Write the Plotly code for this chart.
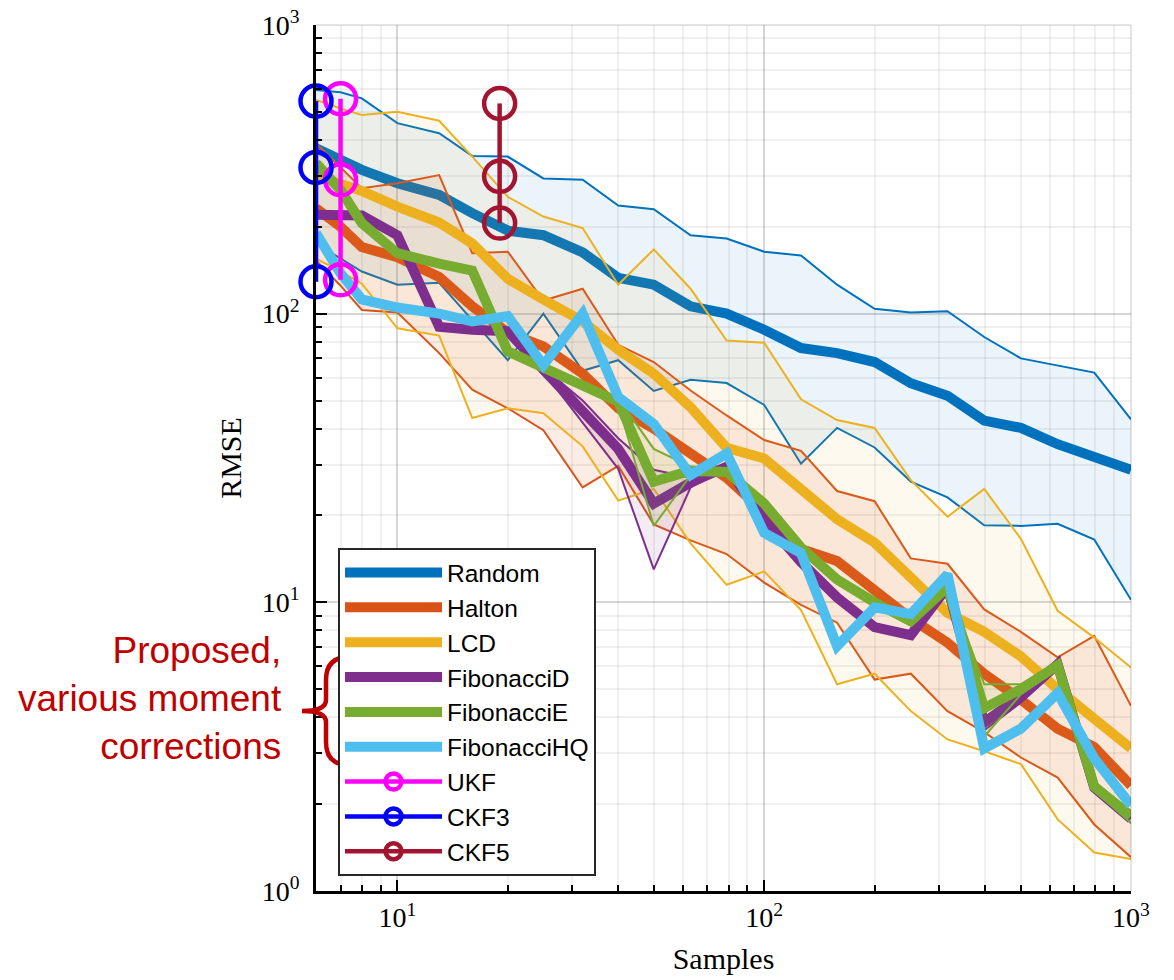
import plotly.graph_objects as go

# ---------------- data ----------------
samples = [6, 7, 8, 10, 13, 16, 20, 25, 32, 40, 50, 63, 79, 100, 126, 158, 200, 251, 316, 398, 501, 631, 794, 1000]

random_mean = [374, 341, 315, 283, 258, 223, 194, 187, 163, 133, 126, 106, 100, 88, 76, 73, 68, 57.4, 52, 42.6, 40.2, 35.3, 32, 28.8]
random_hi = [596, 585, 557, 457, 422, 352, 350, 294, 291, 237, 230, 187, 182, 164, 159, 126, 104, 101, 102, 83, 70, 66, 62.5, 43]
random_lo = [175, 155, 140, 126, 128, 95, 69, 100, 63.4, 69, 54, 59, 57.5, 48.3, 30.2, 40.2, 34.4, 26.2, 23.1, 18.5, 18.4, 18.7, 16.5, 10.2]

halton_mean = [232, 200, 170, 157, 134, 106, 86, 77, 62, 47, 40, 33, 27, 20.5, 15.3, 13.9, 11.1, 8.8, 7.25, 5.65, 4.6, 3.65, 3.15, 2.32]
halton_hi = [389, 320, 272, 283, 302, 162, 164, 111, 122, 78, 68, 54.2, 44.4, 36.5, 33.5, 24.3, 22.4, 14.2, 13.6, 9.45, 7.9, 6.45, 7.65, 4.38]
halton_lo = [153, 125, 103, 101, 73, 54.5, 47, 39.5, 25, 29.7, 18.6, 16.4, 14.7, 11.7, 9.8, 8.5, 5.4, 5.66, 4.2, 3.55, 2.9, 2.47, 1.7, 1.31]

lcd_mean = [300, 280, 266, 235, 207, 175, 132, 112, 94, 75, 62, 47.4, 34.3, 31.5, 24.5, 19.4, 16.1, 12.2, 9.2, 7.9, 6.5, 5.0, 4.0, 3.12]
lcd_hi = [550, 514, 488, 501, 466, 350, 254, 217, 198, 126, 167, 122, 80.7, 79.3, 50.5, 42.8, 40.2, 26.5, 19.8, 24.7, 16.6, 9.35, 7.55, 5.95]
lcd_lo = [155, 140, 127, 89, 84, 43.5, 47, 45.2, 34.7, 22.5, 24.7, 16, 11.5, 12.8, 9.4, 5.2, 5.66, 4.2, 3.35, 3.05, 2.75, 1.77, 1.36, 1.29]

fibd_mean = [220, 220, 219, 187, 90, 88, 87, 64, 46.5, 34, 22, 26, 29.5, 19.3, 13.8, 10.4, 8.2, 7.7, 11.3, 3.83, 4.7, 6.1, 2.28, 1.78]
fibd_hi = [222, 222, 221, 190, 92, 90, 88, 65, 50, 37, 28.8, 27, 30, 19.8, 14.2, 10.6, 8.4, 7.9, 11.6, 4.0, 4.9, 6.3, 2.35, 1.85]
fibd_lo = [218, 218, 217, 184, 88, 86, 85, 63, 42, 29, 13, 25, 29, 19.0, 13.5, 10.2, 8.0, 7.5, 11.0, 3.6, 4.5, 5.9, 2.2, 1.72]

fibe_mean = [332, 268, 206, 162, 149, 141, 74, 65.4, 55.9, 49.5, 26.2, 28.6, 28.3, 22, 15.5, 12, 10, 8.6, 11.3, 4.3, 5.0, 6.05, 2.3, 1.82]
fibe_hi = [335, 270, 208, 164, 151, 143, 75, 66, 57, 51, 34, 29.5, 29, 22.5, 15.9, 12.3, 10.2, 8.8, 11.6, 5.2, 5.2, 6.2, 2.4, 1.88]
fibe_lo = [329, 266, 204, 160, 147, 139, 73, 64.8, 55, 48.5, 18.4, 27.5, 27.6, 21.5, 15.2, 11.7, 9.7, 8.3, 11.0, 3.43, 4.8, 5.9, 2.22, 1.72]

fibhq_mean = [190, 138, 112, 105, 100, 94, 98, 66.3, 100, 51.5, 41.5, 27.6, 32.8, 17.4, 14.8, 7.05, 9.6, 9.1, 12.5, 3.12, 3.65, 4.85, 2.88, 1.98]

ukf_x = [7, 7, 7]
ukf_y = [555, 291, 131]
ckf3_x = [6, 6, 6]
ckf3_y = [545, 321, 129]
ckf5_x = [19, 19, 19]
ckf5_y = [535, 299, 206]

names = ["Random", "Halton", "LCD", "FibonacciD", "FibonacciE", "FibonacciHQ"]
colors = ["#0072BD", "#D95319", "#EDB120", "#7E2F8E", "#77AC30", "#4DBEEE"]
fill_alpha = [0.08, 0.11, 0.08, 0.09, 0.09, 0.0]
means = [random_mean, halton_mean, lcd_mean, fibd_mean, fibe_mean, fibhq_mean]
highs = [random_hi, halton_hi, lcd_hi, fibd_hi, fibe_hi, None]
lows = [random_lo, halton_lo, lcd_lo, fibd_lo, fibe_lo, None]

ytick_vals = [1, 10, 100, 1000]
ytick_text = ["10<sup>0</sup>", "10<sup>1</sup>", "10<sup>2</sup>", "10<sup>3</sup>"]
xtick_vals = [10, 100, 1000]
xtick_text = ["10<sup>1</sup>", "10<sup>2</sup>", "10<sup>3</sup>"]
minor_x = [6, 7, 8, 9, 20, 30, 40, 50, 60, 70, 80, 90, 200, 300, 400, 500, 600, 700, 800, 900]
minor_y = [2, 3, 4, 5, 6, 7, 8, 9, 20, 30, 40, 50, 60, 70, 80, 90, 200, 300, 400, 500, 600, 700, 800, 900]

# ---------------- figure ----------------
W, H = 1174, 980
L, R, T, B = 316, 43, 25, 89
PW, PH = W - L - R, H - T - B


def hex_rgba(h, a):
    h = h.lstrip("#")
    r, g, b = int(h[0:2], 16), int(h[2:4], 16), int(h[4:6], 16)
    return f"rgba({r},{g},{b},{a})"


fig = go.Figure()

for name, col, a, m, hi, lo in zip(names, colors, fill_alpha, means, highs, lows):
    if hi is not None:
        fig.add_trace(go.Scatter(x=samples, y=hi, mode="lines", line=dict(color=col, width=2),
                                 showlegend=False, hoverinfo="skip"))
        fig.add_trace(go.Scatter(x=samples, y=lo, mode="lines", line=dict(color=col, width=2),
                                 fill="tonexty", fillcolor=hex_rgba(col, a),
                                 showlegend=False, hoverinfo="skip"))
    fig.add_trace(go.Scatter(x=samples, y=m, mode="lines", name=name,
                             line=dict(color=col, width=10)))

for name, col, xs, ys in [("UKF", "#FF00FF", ukf_x, ukf_y),
                          ("CKF3", "#0000FF", ckf3_x, ckf3_y),
                          ("CKF5", "#A2142F", ckf5_x, ckf5_y)]:
    fig.add_trace(go.Scatter(x=xs, y=ys, mode="lines+markers", name=name,
                             line=dict(color=col, width=4.5),
                             marker=dict(symbol="circle-open", size=31, color=col,
                                         line=dict(width=4.5, color=col)),
                             cliponaxis=False))


def px2paper(px, py):
    return (px - L) / PW, 1 - (py - T) / PH


# curly brace next to the proposed methods in the legend
pts = [(349, 657), (326, 657), (326, 680), (326, 700), (326, 711), (302, 711), (326, 711),
       (326, 722), (326, 742), (326, 765), (349, 765)]
pp = [px2paper(*p) for p in pts]
fmt = lambda p: f"{p[0]:.5f},{p[1]:.5f}"
path = (f"M {fmt(pp[0])} Q {fmt(pp[1])} {fmt(pp[2])} L {fmt(pp[3])} "
        f"Q {fmt(pp[4])} {fmt(pp[5])} Q {fmt(pp[6])} {fmt(pp[7])} L {fmt(pp[8])} "
        f"Q {fmt(pp[9])} {fmt(pp[10])}")

shapes = [
    dict(type="path", path=path, xref="paper", yref="paper",
         line=dict(color="#C00000", width=4.5), layer="above"),
    dict(type="line", xref="paper", yref="paper", x0=0, x1=1, y0=1, y1=1,
         line=dict(color="rgba(0,0,0,0.15)", width=1.5)),
    dict(type="line", xref="paper", yref="paper", x0=1, x1=1, y0=0, y1=1,
         line=dict(color="rgba(0,0,0,0.15)", width=1.5)),
]

ax_common = dict(
    type="log", showline=True, linecolor="black", linewidth=2.5,
    ticks="inside", ticklen=11, tickwidth=2, tickcolor="black",
    showgrid=True, gridcolor="rgba(0,0,0,0.16)", gridwidth=1.5,
    zeroline=False, tickmode="array", automargin=False,
    tickfont=dict(family="Liberation Serif", size=28, color="black"),
    mirror=False,
)

fig.update_layout(
    width=W, height=H,
    margin=dict(l=L, r=R, t=T, b=B, pad=0, autoexpand=False),
    paper_bgcolor="white", plot_bgcolor="white",
    showlegend=True,
    legend=dict(x=0.027, y=0.396, xanchor="left", yanchor="top", traceorder="normal",
                bgcolor="white", bordercolor="#262626", borderwidth=2,
                font=dict(family="Liberation Sans", size=24.5, color="black"),
                itemwidth=97, tracegroupgap=0),
    xaxis=dict(ax_common, range=[0.77815, 3], tickvals=xtick_vals, ticktext=xtick_text,
               minor=dict(tickmode="array", tickvals=minor_x, ticks="inside", ticklen=6,
                          tickwidth=1.5, tickcolor="black", showgrid=True,
                          gridcolor="rgba(0,0,0,0.06)", gridwidth=1.5),
               title=dict(text="Samples", standoff=16,
                          font=dict(family="Liberation Serif", size=30, color="black"))),
    yaxis=dict(ax_common, range=[0, 3], tickvals=ytick_vals, ticktext=ytick_text,
               ticklabelstandoff=8,
               minor=dict(tickmode="array", tickvals=minor_y, ticks="inside", ticklen=6,
                          tickwidth=1.5, tickcolor="black", showgrid=True,
                          gridcolor="rgba(0,0,0,0.06)", gridwidth=1.5),
               title=dict(text="RMSE", standoff=12,
                          font=dict(family="Liberation Serif", size=30, color="black"))),
    shapes=shapes,
    annotations=[dict(text="Proposed,<br>various moment<br>corrections", xref="paper", yref="paper",
                      x=px2paper(284, 0)[0], y=px2paper(0, 698)[1], xanchor="right", yanchor="middle",
                      align="right", showarrow=False,
                      font=dict(family="Liberation Sans", size=37, color="#C00000"))],
)

fig.write_html("out.html")
